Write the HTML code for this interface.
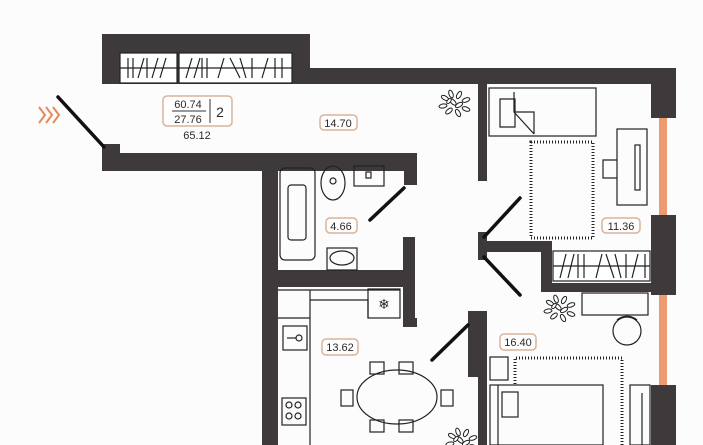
<!DOCTYPE html>
<html><head><meta charset="utf-8"><style>
body{margin:0;background:#fdfcfc;width:703px;height:445px;overflow:hidden}
svg{display:block}
text{font-family:"Liberation Sans",sans-serif;fill:#2a2a2a}
</style></head><body>
<svg width="703" height="445" viewBox="0 0 703 445" xmlns="http://www.w3.org/2000/svg">
<defs>
<g id="plant" fill="#fff" stroke="#222" stroke-width="1">
<ellipse cx="-10" cy="-6" rx="4" ry="2" transform="rotate(30 -10 -6)"/>
<ellipse cx="-4" cy="-10" rx="4" ry="2" transform="rotate(70 -4 -10)"/>
<ellipse cx="4" cy="-9" rx="4" ry="2" transform="rotate(-60 4 -9)"/>
<ellipse cx="11" cy="-4" rx="4" ry="2" transform="rotate(-20 11 -4)"/>
<ellipse cx="-12" cy="2" rx="4" ry="2" transform="rotate(-10 -12 2)"/>
<ellipse cx="-6" cy="7" rx="4" ry="2" transform="rotate(-40 -6 7)"/>
<ellipse cx="3" cy="9" rx="4" ry="2" transform="rotate(60 3 9)"/>
<ellipse cx="11" cy="5" rx="4" ry="2" transform="rotate(20 11 5)"/>
<ellipse cx="-2" cy="-2" rx="4" ry="2" transform="rotate(45 -2 -2)"/>
<ellipse cx="4" cy="1" rx="4" ry="2" transform="rotate(-30 4 1)"/>
<ellipse cx="-6" cy="-3" rx="3" ry="1.6" transform="rotate(-50 -6 -3)"/>
</g>
</defs>
<rect width="703" height="445" fill="#fdfcfc"/>
<g fill="#3e3a3b">
<rect x="102" y="34" width="208" height="50"/>
<rect x="310" y="68" width="366" height="16"/>
<rect x="651" y="68" width="25" height="50"/>
<rect x="651" y="215" width="25" height="80"/>
<rect x="651" y="385" width="25" height="60"/>
<rect x="102" y="144" width="18" height="27"/>
<rect x="102" y="153" width="315" height="18"/>
<rect x="404" y="153" width="13" height="32"/>
<rect x="262" y="153" width="16" height="292"/>
<rect x="262" y="270" width="150" height="17"/>
<rect x="403" y="237" width="12" height="90"/>
<rect x="403" y="318" width="14" height="9"/>
<rect x="478" y="84" width="9" height="97"/>
<rect x="478" y="232" width="9" height="28"/>
<rect x="478" y="241" width="64" height="11"/>
<rect x="541" y="241" width="11" height="51"/>
<rect x="541" y="283" width="135" height="9"/>
<rect x="468" y="311" width="19" height="66"/>
<rect x="478" y="311" width="9" height="134"/>
</g>
<rect x="659" y="118" width="8" height="97" fill="#ee9b72"/>
<rect x="659" y="295" width="8" height="90" fill="#ee9b72"/>
<g fill="#fff" stroke="#222" stroke-width="1.2">
<rect x="120" y="53" width="57" height="30"/>
<rect x="179" y="53" width="113" height="30"/>
<rect x="553" y="251" width="97" height="30"/>
</g>
<g stroke="#222" stroke-width="1.2">
<line x1="120" y1="68" x2="292" y2="68"/>
<path d="M128 58v20M133 58v20M138 78l6-20M147 58v20M152 78l6-20M160 78l6-20M186 78l6-20M194 78l6-20M202 58v20M207 58v20M218 78l6-20M230 58l10 20M240 58l6 20M252 58v20M262 78l6-20M275 58v20M282 58v20"/>
<line x1="553" y1="266" x2="650" y2="266"/>
<path d="M560 278l6-24M568 278l6-24M578 254v24M584 254v24M596 278l6-24M606 254l8 24M615 254l6 24M626 254v24M632 278l6-24M645 254v24"/>
</g>
<g stroke="#111" stroke-width="3.5" stroke-linecap="round">
<line x1="58" y1="97" x2="104" y2="147"/>
<line x1="370" y1="220" x2="404" y2="188"/>
<line x1="484" y1="237" x2="520" y2="198"/>
<line x1="484" y1="257" x2="520" y2="295"/>
<line x1="432" y1="360" x2="468" y2="325"/>
</g>
<g fill="none" stroke="#e58a5a" stroke-width="2">
<path d="M39 107l6 8-6 8M46 107l6 8-6 8M53 107l6 8-6 8"/>
</g>
<g fill="#fff" stroke="#d9b39a" stroke-width="1.5">
<rect x="163" y="96" width="69" height="30" rx="4"/>
<rect x="320" y="115" width="37" height="15" rx="4"/>
<rect x="326" y="218" width="31" height="15" rx="4"/>
<rect x="602" y="218" width="38" height="15" rx="4"/>
<rect x="500" y="334" width="36" height="16" rx="4"/>
<rect x="322" y="339" width="36" height="16" rx="4"/>
</g>
<line x1="172" y1="111" x2="206" y2="111" stroke="#333"/>
<line x1="210" y1="99" x2="210" y2="123" stroke="#333"/>
<g font-size="11" text-anchor="middle">
<text x="188" y="108">60.74</text>
<text x="188" y="123">27.76</text>
<text x="220" y="117" font-size="14">2</text>
<text x="197" y="139">65.12</text>
<text x="338" y="127">14.70</text>
<text x="341" y="230">4.66</text>
<text x="621" y="230">11.36</text>
<text x="518" y="346">16.40</text>
<text x="340" y="351">13.62</text>
</g>
<g fill="none" stroke="#222" stroke-width="1.2">
<rect x="280" y="168" width="35" height="92" rx="5"/>
<rect x="288" y="185" width="18" height="55" rx="3"/>
<ellipse cx="333" cy="183" rx="12" ry="17"/><circle cx="333" cy="181" r="3"/>
<rect x="354" y="166" width="30" height="20"/><rect x="366" y="172" width="5" height="6"/>
<rect x="327" y="248" width="30" height="22"/><ellipse cx="342" cy="258" rx="12" ry="7"/>
<path d="M278 290H400M278 318H310V445M310 318v-28"/>
<path d="M310 300H368V318"/>
<rect x="368" y="289" width="32" height="29"/>
<rect x="283" y="326" width="24" height="24"/><circle cx="299" cy="338" r="3"/><path d="M287 338h9"/>
<rect x="282" y="398" width="24" height="27"/>
<circle cx="289" cy="405" r="3"/><circle cx="298" cy="405" r="3"/><circle cx="289" cy="416" r="3"/><circle cx="298" cy="416" r="3"/>
<ellipse cx="397" cy="397" rx="40" ry="27"/>
<rect x="370" y="362" width="14" height="12"/><rect x="399" y="362" width="14" height="12"/>
<rect x="370" y="420" width="14" height="12"/><rect x="399" y="420" width="14" height="12"/>
<rect x="341" y="390" width="12" height="16"/><rect x="441" y="390" width="12" height="16"/>
<rect x="489" y="88" width="107" height="48"/>
<path d="M514 92V112H534V134M500 99h15v28h-15zM514 112l20 22"/>
<rect x="617" y="129" width="30" height="76"/><rect x="635" y="145" width="5" height="45"/>
<path d="M617 160h-14v18h14"/>
<rect x="582" y="293" width="66" height="22"/>
<circle cx="627" cy="331" r="14"/><path d="M617 320a15 15 0 0 1 20 0"/>
<rect x="490" y="357" width="18" height="23"/>
<rect x="490" y="385" width="113" height="60"/><path d="M498 385v60"/>
<rect x="502" y="392" width="16" height="25"/>
<rect x="630" y="385" width="20" height="60"/><path d="M642 393v52"/>
</g>
<text x="384" y="309" font-size="14" text-anchor="middle" fill="#222">❄</text>
<g fill="none" stroke="#222" stroke-width="3" stroke-dasharray="1 2">
<path d="M531 142H593V238H531Z"/>
<path d="M515 384V358H622V445"/>
</g>
<use href="#plant" x="455" y="104"/>
<use href="#plant" x="560" y="309"/>
<use href="#plant" x="462" y="442"/>
</svg>
</body></html>
